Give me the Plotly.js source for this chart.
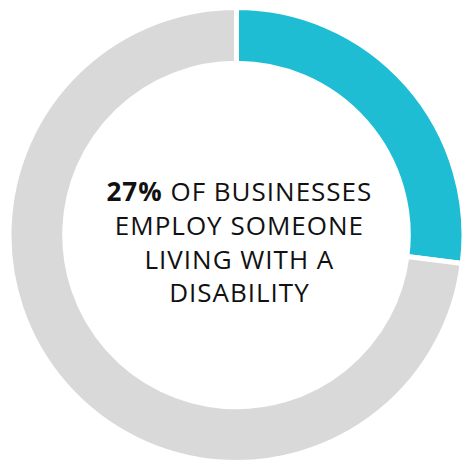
<!DOCTYPE html>
<html>
<head>
<meta charset="utf-8">
<script src="https://cdn.plot.ly/plotly-3.0.1.min.js"></script>
<style>html,body{margin:0;padding:0;background:#fff;}#chart{width:466px;height:466px;}
#chart .annotation-text{letter-spacing:1px;}</style>
</head>
<body>
<div id="chart"></div>
<script>
const labels = ["Employ someone living with a disability", "Do not"];
const values = [27, 73];
const colors = ["#1FBDD4", "#D9D9D9"];
const centerLines = ["<b>27%</b> OF BUSINESSES", "EMPLOY SOMEONE", "LIVING WITH A", "DISABILITY"];

const trace = {
  type: "pie",
  labels: labels,
  values: values,
  hole: 0.755,
  sort: false,
  direction: "clockwise",
  rotation: 0,
  textinfo: "none",
  hoverinfo: "label+percent",
  marker: {colors: colors, line: {color: "#ffffff", width: 5}},
  domain: {x: [0.0193, 0.9957], y: [0.0064, 0.985]},
  showlegend: false
};

const layout = {
  width: 466, height: 466,
  margin: {l: 0, r: 0, t: 0, b: 0},
  paper_bgcolor: "#ffffff",
  showlegend: false,
  annotations: [{
    text: centerLines.join("<br>"),
    x: 239/466, y: 1 - 242/466, xref: "paper", yref: "paper",
    xanchor: "center", yanchor: "middle",
    showarrow: false,
    align: "center",
    font: {family: "Open Sans", size: 26, color: "#111111"}
  }]
};

Plotly.newPlot("chart", [trace], layout, {staticPlot: true});
</script>
</body>
</html>
